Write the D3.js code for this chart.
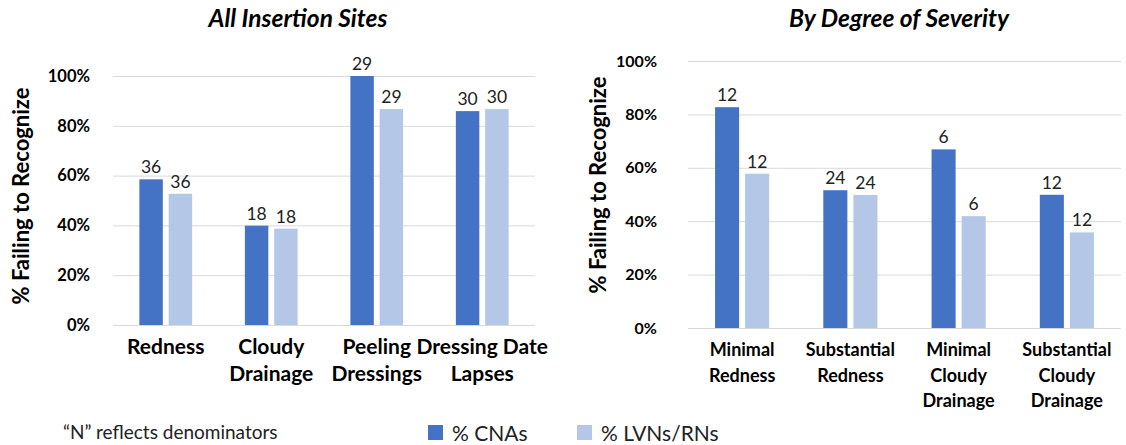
<!DOCTYPE html>
<html>
<head>
<meta charset="utf-8">
<script src="https://cdn.jsdelivr.net/npm/d3@7"></script>
<style>
  body { margin: 0; background: #fff; }
  svg { display: block; font-family: Lato, "Open Sans", sans-serif; }
</style>
</head>
<body>
<div id="chart"></div>
<script>
// data (percent failing to recognize, N above bars)
var leftCategories = [["Redness"], ["Cloudy", "Drainage"], ["Peeling", "Dressings"], ["Dressing Date", "Lapses"]];
var leftCNA = [58.5, 39.9, 100, 85.9];
var leftLVN = [52.7, 38.7, 86.7, 86.7];
var leftNCNA = [36, 18, 29, 30];
var leftNLVN = [36, 18, 29, 30];

var rightCategories = [["Minimal", "Redness"], ["Substantial", "Redness"], ["Minimal", "Cloudy", "Drainage"], ["Substantial", "Cloudy", "Drainage"]];
var rightCNA = [82.7, 51.6, 66.9, 49.9];
var rightLVN = [57.8, 49.8, 41.9, 35.8];
var rightNCNA = [12, 24, 6, 12];
var rightNLVN = [12, 24, 6, 12];

var yTicks = [0, 20, 40, 60, 80, 100];
var seriesNames = ["% CNAs", "% LVNs/RNs"];
var colors = ["#4472C4", "#B4C7E7"];

var svg = d3.select("#chart").append("svg")
    .attr("width", 1126)
    .attr("height", 445);

function drawPanel(opt) {
  var rows = opt.cats.map(function(c, i) {
    return { key: i, label: c, vals: [opt.cna[i], opt.lvn[i]], ns: [opt.ncna[i], opt.nlvn[i]] };
  });

  var x0 = d3.scaleBand()
      .domain(rows.map(d => d.key))
      .range([opt.left, opt.right])
      .padding(0);
  var x1 = d3.scaleBand()
      .domain([0, 1])
      .range([0, x0.bandwidth()])
      .paddingInner(0.2)
      .paddingOuter(0.9);
  var y = d3.scaleLinear().domain([0, 100]).range([opt.bottom, opt.top]);

  var g = svg.append("g");

  // gridlines
  g.append("g")
    .attr("class", "grid")
    .attr("transform", "translate(" + opt.left + ",0)")
    .call(d3.axisLeft(y).tickValues(yTicks).tickSize(-(opt.right - opt.left)).tickFormat(""))
    .call(s => s.select(".domain").remove())
    .call(s => s.selectAll("line").attr("stroke", "#D9D9D9").attr("stroke-width", 1));

  // y tick labels
  g.append("g")
    .attr("transform", "translate(" + (opt.left - opt.labelGap) + ",0)")
    .call(d3.axisLeft(y).tickValues(yTicks).tickSize(0).tickFormat(d => d + "%"))
    .call(s => s.select(".domain").remove())
    .call(s => s.selectAll("text")
      .attr("font-family", "Lato, sans-serif")
      .attr("font-size", opt.tickSize)
      .attr("font-weight", "bold")
      .attr("fill", "#000"));

  // bars
  var grp = g.selectAll(".grp")
    .data(rows)
    .enter().append("g")
    .attr("transform", d => "translate(" + x0(d.key) + ",0)");

  grp.selectAll("rect")
    .data(d => d.vals.map((v, j) => ({ j: j, v: v })))
    .enter().append("rect")
    .attr("x", d => x1(d.j))
    .attr("width", x1.bandwidth())
    .attr("y", d => y(d.v))
    .attr("height", d => y(0) - y(d.v))
    .attr("fill", d => colors[d.j]);

  grp.selectAll(".nlab")
    .data(d => d.ns.map((n, j) => ({ j: j, n: n, v: d.vals[j] })))
    .enter().append("text")
    .attr("class", "nlab")
    .attr("x", d => x1(d.j) + x1.bandwidth() / 2)
    .attr("y", d => y(d.v) - 6)
    .attr("text-anchor", "middle")
    .attr("font-size", "17.5px")
    .attr("fill", "#222")
    .text(d => d.n);

  // category labels
  var cl = g.selectAll(".cat")
    .data(rows)
    .enter().append("text")
    .attr("class", "cat")
    .attr("text-anchor", "middle")
    .attr("font-size", opt.catSize)
    .attr("font-weight", "bold")
    .attr("fill", "#000")
    .attr("transform", d => "translate(" + (x0(d.key) + x0.bandwidth() / 2) + "," + opt.catY + ")");
  cl.selectAll("tspan")
    .data(d => d.label)
    .enter().append("tspan")
    .attr("x", 0)
    .attr("y", (d, i) => i * opt.catLine)
    .text(d => d);

  // axis title
  svg.append("text")
    .attr("transform", "translate(" + opt.ytX + "," + opt.ytY + ") rotate(-90)")
    .attr("text-anchor", "middle")
    .attr("dy", "0.35em")
    .attr("font-size", "22px")
    .attr("font-weight", "bold")
    .text("% Failing to Recognize");

  // chart title
  svg.append("text")
    .attr("x", opt.titleX)
    .attr("y", opt.titleY)
    .attr("text-anchor", "middle")
    .attr("font-size", opt.titleSize)
    .attr("font-weight", "bold")
    .attr("font-style", "italic")
    .text(opt.title);
}

drawPanel({
  cats: leftCategories, cna: leftCNA, lvn: leftLVN, ncna: leftNCNA, nlvn: leftNLVN,
  left: 113, right: 535, top: 76, bottom: 325, labelGap: 20, tickSize: "16.5px",
  catY: 354, catLine: 27, catSize: "21px",
  ytX: 21, ytY: 196,
  title: "All Insertion Sites", titleX: 298, titleY: 27, titleSize: "24.5px"
});

drawPanel({
  cats: rightCategories, cna: rightCNA, lvn: rightLVN, ncna: rightNCNA, nlvn: rightNLVN,
  left: 688, right: 1121, top: 61, bottom: 328, labelGap: 28, tickSize: "16px",
  catY: 356, catLine: 25.5, catSize: "18px",
  ytX: 598, ytY: 185,
  title: "By Degree of Severity", titleX: 899, titleY: 27, titleSize: "24.5px"
});

// legend
var legend = svg.append("g");
var legendX = [428, 577];
seriesNames.forEach(function(name, i) {
  legend.append("rect")
    .attr("x", legendX[i])
    .attr("y", 425)
    .attr("width", 15)
    .attr("height", 15)
    .attr("fill", colors[i]);
  legend.append("text")
    .attr("x", legendX[i] + 24)
    .attr("y", 441)
    .attr("font-size", "21px")
    .attr("fill", "#222")
    .text(name);
});

// footnote
svg.append("text")
  .attr("x", 63)
  .attr("y", 439)
  .attr("font-size", "19px")
  .attr("fill", "#222")
  .text("\u201CN\u201D reflects denominators");
</script>
</body>
</html>
